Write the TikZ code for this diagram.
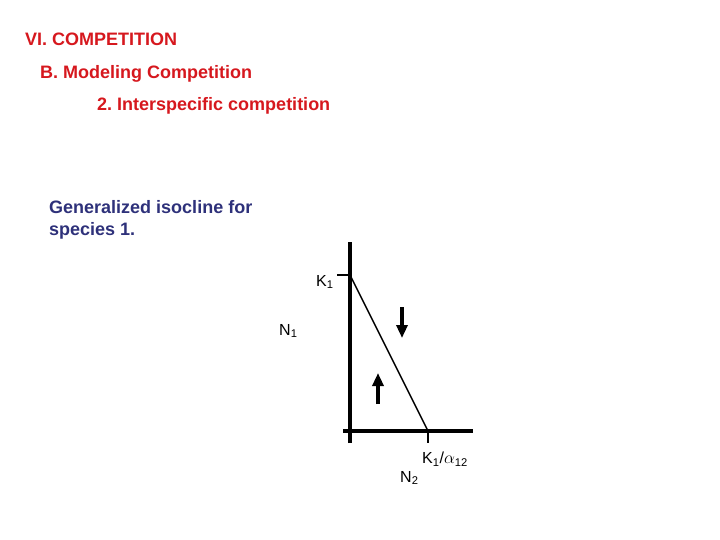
\documentclass[tikz,border=0pt]{standalone}
\usepackage{fontspec}
\setmainfont{Liberation Sans}
\usetikzlibrary{arrows.meta}
\definecolor{titlered}{RGB}{214,24,30}
\definecolor{textblue}{RGB}{46,49,122}
\frenchspacing

\begin{document}
\begin{tikzpicture}[x=1pt,y=-1pt,
        heading/.style={anchor=base west,inner sep=0pt,text=titlered,
            font=\bfseries\fontsize{18}{22}\selectfont},
        note/.style={anchor=base west,inner sep=0pt,text=textblue,align=left,
            font=\bfseries\fontsize{18}{22}\selectfont},
        label node/.style={anchor=base west,inner sep=0pt,font=\fontsize{16}{18}\selectfont},
        axis line/.style={line width=3.8pt},
        trend/.style={line width=3.2pt,-{Triangle[length=13pt,width=11pt]}}]
    \useasboundingbox (0,0) rectangle (720,540);

    % headings
    \node[heading] (h1) at (25,46) {VI. COMPETITION};
    \node[heading] (h2) at (40,78.5) {B. Modeling Competition};
    \node[heading] (h3) at (97,110.5) {2. Interspecific competition};
    \node[note] (iso) at (49,235.5) {Generalized isocline for\\species 1.};

    % axes and isocline
    \coordinate (o) at (350,431);
    \coordinate (ytop) at (350,242);
    \coordinate (ybot) at (350,443);
    \coordinate (xleft) at (343,431);
    \coordinate (xright) at (473,431);
    \coordinate (k1) at (350,275);
    \coordinate (k1tick) at (337,275);
    \coordinate (ka) at (428,431);
    \coordinate (katick) at (428,443);

    \draw[axis line] (ybot) -- (ytop);
    \draw[axis line] (xleft) -- (xright);
    \draw[line width=2.6pt] (k1tick) -- (k1);
    \draw[line width=2.6pt] (ka) -- (katick);
    \draw[line width=1.5pt] (k1) -- (ka);

    % arrows
    \coordinate (d1) at (402,307);
    \coordinate (d2) at (402,338);
    \coordinate (u1) at (378,404);
    \coordinate (u2) at (378,373);
    \draw[trend] (d1) -- (d2);
    \draw[trend] (u1) -- (u2);

    % labels
    \node[label node] (lk1) at (316,286) {K\textsubscript{1}};
    \node[label node] (ln1) at (279,335) {N\textsubscript{1}};
    \node[label node] (lka) at (422,463.5) {K\textsubscript{1}/$\alpha$\textsubscript{12}};
    \node[label node] (ln2) at (400,482) {N\textsubscript{2}};
\end{tikzpicture}
\end{document}
